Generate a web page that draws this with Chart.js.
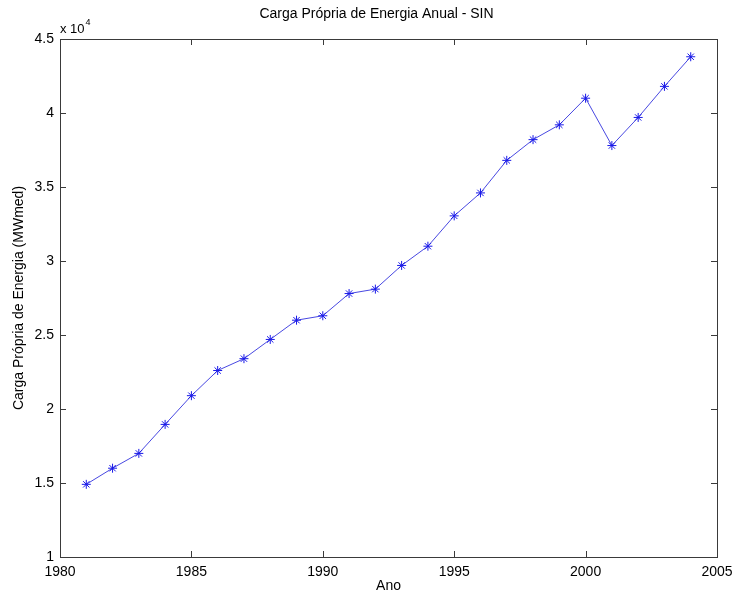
<!DOCTYPE html>
<html>
<head>
<meta charset="utf-8">
<script src="https://cdn.jsdelivr.net/npm/chart.js@4.4.1/dist/chart.umd.min.js"></script>
<style>
  html, body { margin: 0; padding: 0; background: #fff; }
  #wrap { width: 732px; height: 595px; }
</style>
</head>
<body>
<div id="wrap"><canvas id="myChart" width="732" height="595"></canvas></div>
<script>
// Carga Própria de Energia Anual - SIN (MWmed)
const anos = [1981, 1982, 1983, 1984, 1985, 1986, 1987, 1988, 1989, 1990, 1991, 1992,
              1993, 1994, 1995, 1996, 1997, 1998, 1999, 2000, 2001, 2002, 2003, 2004];
const carga = [14910, 16000, 17000, 18960, 20900, 22600, 23400, 24700, 26000, 26300, 27800, 28100,
               29700, 31000, 33050, 34600, 36800, 38200, 39200, 41000, 37800, 39700, 41800, 43800];
const xTicks = [1980, 1985, 1990, 1995, 2000, 2005];
const yTicks = [10000, 15000, 20000, 25000, 30000, 35000, 40000, 45000];
const titulo = 'Carga Própria de Energia Anual - SIN';

const fonte = 'Arial, "Liberation Sans", sans-serif';
const corEixo = '#3a3a3a';

// caixa, marcas para dentro (estilo matlab), titulo e multiplicador
const caixaPlugin = {
  id: 'caixa',
  afterDraw(chart) {
    const ctx = chart.ctx;
    const a = chart.chartArea;
    const sx = chart.scales.x, sy = chart.scales.y;
    ctx.save();
    ctx.strokeStyle = corEixo;
    ctx.lineWidth = 1;
    ctx.strokeRect(Math.round(a.left) + 0.5, Math.round(a.top) + 0.5,
                   Math.round(a.right - a.left), Math.round(a.bottom - a.top));
    const len = 6;
    ctx.beginPath();
    xTicks.forEach(v => {
      const px = Math.round(sx.getPixelForValue(v)) + 0.5;
      ctx.moveTo(px, a.bottom); ctx.lineTo(px, a.bottom - len);
      ctx.moveTo(px, a.top); ctx.lineTo(px, a.top + len);
    });
    yTicks.forEach(v => {
      const py = Math.round(sy.getPixelForValue(v)) + 0.5;
      ctx.moveTo(a.left, py); ctx.lineTo(a.left + len, py);
      ctx.moveTo(a.right, py); ctx.lineTo(a.right - len, py);
    });
    ctx.stroke();

    ctx.fillStyle = '#000';
    // titulo
    ctx.font = '14px ' + fonte;
    ctx.textAlign = 'center';
    ctx.textBaseline = 'middle';
    ctx.fillText(titulo, (a.left + a.right) / 2 - 12, 14);

    // multiplicador do eixo y
    ctx.textBaseline = 'alphabetic';
    ctx.textAlign = 'left';
    ctx.font = '13px ' + fonte;
    ctx.fillText('x 10', a.left, a.top - 6);
    const w = ctx.measureText('x 10').width;
    ctx.font = '9px ' + fonte;
    ctx.fillText('4', a.left + w + 1, a.top - 14);
    ctx.restore();
  }
};

const ctx = document.getElementById('myChart').getContext('2d');
new Chart(ctx, {
  type: 'line',
  data: {
    datasets: [{
      data: anos.map((a, i) => ({x: a, y: carga[i]})),
      borderColor: 'rgba(40, 40, 220, 0.85)',
      borderWidth: 1,
      pointStyle: 'star',
      pointRadius: 4.5,
      pointBorderWidth: 1,
      pointBorderColor: '#1818e8',
      pointBackgroundColor: '#1818e8',
      tension: 0,
      fill: false
    }]
  },
  plugins: [caixaPlugin],
  options: {
    responsive: false,
    animation: false,
    layout: {padding: {left: 0, right: 15, top: 39, bottom: 0}},
    plugins: {
      legend: {display: false},
      tooltip: {enabled: false},
      title: {display: false}
    },
    scales: {
      x: {
        type: 'linear',
        min: 1980, max: 2005,
        afterBuildTicks: s => { s.ticks = xTicks.map(v => ({value: v})); },
        afterFit: s => { s.height = 38; s.paddingLeft = 0; s.paddingRight = 0; },
        grid: {display: false, drawTicks: false},
        border: {display: false},
        ticks: {
          color: '#000', font: {family: fonte, size: 14}, padding: 7, maxRotation: 0,
          callback: v => String(v)
        },
        title: {display: true, text: 'Ano', color: '#000', font: {family: fonte, size: 14}, padding: {top: 0, bottom: 0}}
      },
      y: {
        type: 'linear',
        min: 10000, max: 45000,
        afterBuildTicks: s => { s.ticks = yTicks.map(v => ({value: v})); },
        afterFit: s => { s.width = 60; },
        grid: {display: false, drawTicks: false},
        border: {display: false},
        ticks: {
          color: '#000', font: {family: fonte, size: 14}, padding: 6,
          callback: v => String(v / 10000)
        },
        title: {display: true, text: 'Carga Própria de Energia (MWmed)', color: '#000', font: {family: fonte, size: 14}, padding: {top: 11, bottom: 0}}
      }
    }
  }
});
</script>
</body>
</html>
